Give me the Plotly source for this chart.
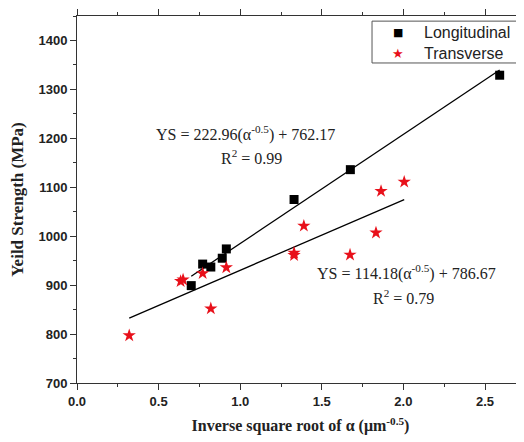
import plotly.graph_objects as go

# Longitudinal data
long_x = [0.70, 0.77, 0.82, 0.89, 0.915, 1.33, 1.675, 2.59]
long_y = [899, 943, 937, 955, 974, 1075, 1136, 1329]

# Transverse data
trans_x = [0.32, 0.635, 0.65, 0.77, 0.82, 0.915, 1.33, 1.33, 1.39, 1.673, 1.832, 1.863, 2.005]
trans_y = [797, 908, 911, 924, 852, 936, 966, 961, 1021, 962, 1007, 1092, 1111]

# Fit lines (as drawn)
long_fit = (222.96, 762.17)
trans_fit = (143.7, 786.67)

series_names = ["Longitudinal", "Transverse"]
long_color = "black"
trans_color = "#e8101a"

serif = "Liberation Serif, Times New Roman, serif"
sans = "Liberation Sans, Arial, sans-serif"

def line(xs, coef):
    x0, x1 = min(xs), max(xs)
    return [x0, x1], [coef[0] * x0 + coef[1], coef[0] * x1 + coef[1]]

fig = go.Figure()
lx, ly = line(long_x, long_fit)
tx, ty = line(trans_x, trans_fit)
fig.add_trace(go.Scatter(x=lx, y=ly, mode="lines", line=dict(color="black", width=1.3), showlegend=False))
fig.add_trace(go.Scatter(x=tx, y=ty, mode="lines", line=dict(color="black", width=1.3), showlegend=False))
fig.add_trace(go.Scatter(x=long_x, y=long_y, mode="markers", name=series_names[0], showlegend=False,
                         marker=dict(symbol="square", size=9, color=long_color)))
fig.add_trace(go.Scatter(x=trans_x, y=trans_y, mode="markers", name=series_names[1], showlegend=False,
                         marker=dict(symbol="star", size=10, color=trans_color, line=dict(width=0))))

ann_font = dict(family=serif, size=16, color="#222")
fig.add_annotation(x=1.03, y=1210, text="YS = 222.96(α<sup>-0.5</sup>) + 762.17", showarrow=False, font=ann_font)
fig.add_annotation(x=1.07, y=1161, text="R<sup>2</sup> = 0.99", showarrow=False, font=ann_font)
fig.add_annotation(x=2.02, y=925, text="YS = 114.18(α<sup>-0.5</sup>) + 786.67", showarrow=False, font=ann_font)
fig.add_annotation(x=2.0, y=876, text="R<sup>2</sup> = 0.79", showarrow=False, font=ann_font)

# Legend box (compact, like the original)
fig.add_shape(type="rect", xref="paper", yref="paper", x0=0.66, x1=0.984, y0=0.872, y1=0.986,
              line=dict(color="#555", width=1), fillcolor="white", layer="above")
leg_rows = [0.956, 0.899]
fig.add_annotation(xref="paper", yref="paper", x=0.718, y=leg_rows[0], text="■", showarrow=False,
                   xanchor="center", yanchor="middle",
                   font=dict(family="DejaVu Sans", size=11, color=long_color))
fig.add_annotation(xref="paper", yref="paper", x=0.718, y=leg_rows[1], text="★", showarrow=False,
                   xanchor="center", yanchor="middle",
                   font=dict(family="DejaVu Sans", size=13, color=trans_color))
for name, yy in zip(series_names, leg_rows):
    fig.add_annotation(xref="paper", yref="paper", x=0.772, y=yy, xanchor="left", yanchor="middle",
                       text=name, showarrow=False, font=dict(family=sans, size=16, color="#222"))

fig.update_layout(
    width=516, height=434,
    margin=dict(l=69, r=0, t=8, b=59, autoexpand=False),
    plot_bgcolor="white", paper_bgcolor="white",
    showlegend=False,
    xaxis=dict(range=[0, 2.739], tickvals=[0, 0.5, 1.0, 1.5, 2.0, 2.5],
               ticktext=["0.0", "0.5", "1.0", "1.5", "2.0", "2.5"], automargin=False,
               showgrid=False, zeroline=False, showline=True, linecolor="#333", linewidth=1,
               mirror="ticks", ticks="outside", ticklen=6, tickcolor="#333",
               minor=dict(tickvals=[0.25, 0.75, 1.25, 1.75, 2.25], ticks="outside", ticklen=3, tickcolor="#333"),
               tickfont=dict(family=sans, size=13, color="#222", weight="bold"),
               title=dict(text="Inverse square root of α (μm<sup>-0.5</sup>)",
                          font=dict(family=serif, size=16, color="#222", weight="bold"), standoff=12)),
    yaxis=dict(range=[700, 1450], tickvals=[700, 800, 900, 1000, 1100, 1200, 1300, 1400],
               automargin=False,
               showgrid=False, zeroline=False, showline=True, linecolor="#333", linewidth=1,
               ticks="outside", ticklen=6, tickcolor="#333",
               minor=dict(tickvals=[750, 850, 950, 1050, 1150, 1250, 1350, 1450], ticks="outside", ticklen=3, tickcolor="#333"),
               tickfont=dict(family=sans, size=13, color="#222", weight="bold"),
               title=dict(text="Yeild Strength (MPa)",
                          font=dict(family=serif, size=17, color="#222", weight="bold"), standoff=10)),
)

fig.write_html("out.html")
